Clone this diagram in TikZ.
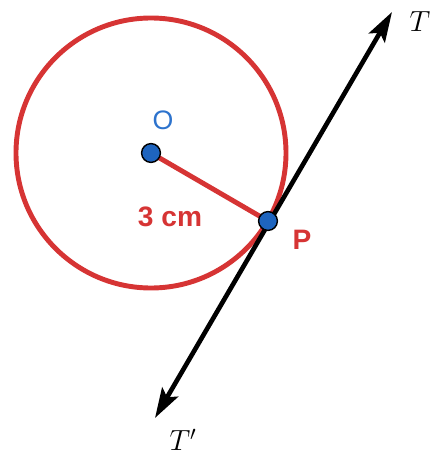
\documentclass[tikz,border=0pt]{standalone}
\usepackage{fontspec}
\setsansfont{Liberation Sans}
\usepackage{tikz}
\usetikzlibrary{arrows.meta,positioning,calc}
\definecolor{circRed}{RGB}{214,52,52}
\definecolor{dotBlue}{RGB}{30,100,190}
\definecolor{labBlue}{RGB}{45,115,205}

\begin{document}
\begin{tikzpicture}[
        dot/.style={circle,draw=black,line width=1pt,fill=dotBlue,inner sep=0pt,minimum size=0.47cm},
        lab/.style={font=\sffamily\bfseries\fontsize{20}{22}\selectfont,text=circRed},
        arrow/.style={{Stealth[length=7.5mm,width=4.6mm,inset=1.5mm]}-{Stealth[length=7.5mm,width=4.6mm,inset=1.5mm]},line width=3.3pt}
      ]
        \useasboundingbox (0,0) rectangle (10.8,11.475);
        \coordinate (o) at (3.775,7.65);
        \coordinate (p) at (6.7,5.95);
        \coordinate (t) at (9.8,11.175);
        \coordinate (tp) at (3.875,1.025);
        \draw[circRed,line width=3.5pt] (o) circle (3.375);
        \draw[arrow] (tp) -- (t);
        \draw[circRed,line width=3.5pt] (o) -- (p);
        \node[dot] (O) at (o) {};
        \node[dot] (P) at (p) {};
        \node[font=\sffamily\fontsize{19}{21}\selectfont,text=labBlue] (lo) at (4.075,8.475) {O};
        \node[lab] (lr) at (4.25,6.05) {3 cm};
        \node[lab] (lp) at (7.55,5.475) {P};
        \node[font=\fontsize{22}{24}\selectfont] (lt) at (10.5,10.925) {$T$};
        \node[font=\fontsize{22}{24}\selectfont] (ltp) at (4.575,0.475) {$T'$};
      \end{tikzpicture}
\end{document}
